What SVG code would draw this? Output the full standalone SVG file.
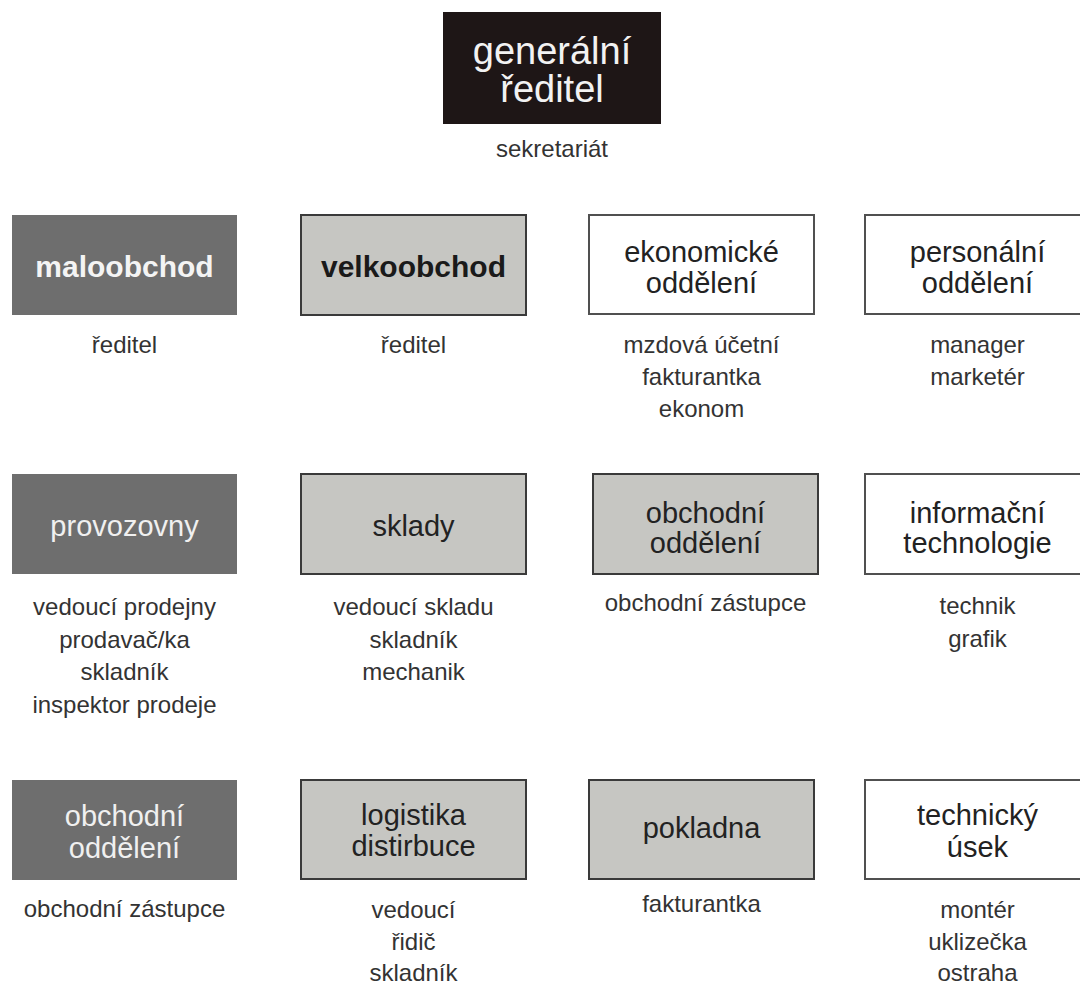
<svg xmlns="http://www.w3.org/2000/svg" width="1080" height="985" viewBox="0 0 1080 985">
<style>
text{font-family:"Liberation Sans",Arial,sans-serif;text-anchor:middle}
.top{fill:#1e1616}
.dark{fill:#6e6e6e}
.light{fill:#c6c6c2;stroke:#3a3a3a;stroke-width:2}
.white{fill:#ffffff;stroke:#505050;stroke-width:2}
.tt{font-size:38px;fill:#f2f2f2}
.lb{font-size:29px;fill:#222}
.lw{font-size:29px;fill:#f0f0f0}
.bw{font-size:30px;font-weight:bold;fill:#f4f4f4}
.bd{font-size:30px;font-weight:bold;fill:#1a1a1a}
.sub{font-size:24px;fill:#333}
</style>
<rect width="1080" height="985" fill="#ffffff"/>
<g id="connectors"/>
<g id="generalni-reditel">
<rect class="top" x="443" y="12" width="218" height="112"/>
<text class="tt" x="552" y="64">generální</text>
<text class="tt" x="552" y="102">ředitel</text>
<text class="sub" x="552" y="157">sekretariát</text>
</g>
<g id="maloobchod">
<rect class="dark" x="12" y="215" width="225" height="100"/>
<text class="bw" x="124.5" y="277">maloobchod</text>
<text class="sub" x="124.5" y="353">ředitel</text>
</g>
<g id="velkoobchod">
<rect class="light" x="301" y="215" width="225" height="100"/>
<text class="bd" x="413.5" y="277">velkoobchod</text>
<text class="sub" x="413.5" y="353">ředitel</text>
</g>
<g id="ekonomicke-oddeleni">
<rect class="white" x="589" y="215" width="225" height="99"/>
<text class="lb" x="701.5" y="262">ekonomické</text>
<text class="lb" x="701.5" y="293">oddělení</text>
<text class="sub" x="701.5" y="353">mzdová účetní</text>
<text class="sub" x="701.5" y="385">fakturantka</text>
<text class="sub" x="701.5" y="417">ekonom</text>
</g>
<g id="personalni-oddeleni">
<rect class="white" x="865" y="215" width="222" height="99"/>
<text class="lb" x="977.5" y="262">personální</text>
<text class="lb" x="977.5" y="293">oddělení</text>
<text class="sub" x="977.5" y="353">manager</text>
<text class="sub" x="977.5" y="385">marketér</text>
</g>
<g id="provozovny">
<rect class="dark" x="12" y="474" width="225" height="100"/>
<text class="lw" x="124.5" y="536">provozovny</text>
<text class="sub" x="124.5" y="615">vedoucí prodejny</text>
<text class="sub" x="124.5" y="648">prodavač/ka</text>
<text class="sub" x="124.5" y="680">skladník</text>
<text class="sub" x="124.5" y="713">inspektor prodeje</text>
</g>
<g id="sklady">
<rect class="light" x="301" y="474" width="225" height="100"/>
<text class="lb" x="413.5" y="536">sklady</text>
<text class="sub" x="413.5" y="615">vedoucí skladu</text>
<text class="sub" x="413.5" y="648">skladník</text>
<text class="sub" x="413.5" y="680">mechanik</text>
</g>
<g id="obchodni-oddeleni-2">
<rect class="light" x="593" y="474" width="225" height="100"/>
<text class="lb" x="705.5" y="523">obchodní</text>
<text class="lb" x="705.5" y="553">oddělení</text>
<text class="sub" x="705.5" y="611">obchodní zástupce</text>
</g>
<g id="informacni-technologie">
<rect class="white" x="865" y="474" width="222" height="100"/>
<text class="lb" x="977.5" y="523">informační</text>
<text class="lb" x="977.5" y="553">technologie</text>
<text class="sub" x="977.5" y="614">technik</text>
<text class="sub" x="977.5" y="647">grafik</text>
</g>
<g id="obchodni-oddeleni-1">
<rect class="dark" x="12" y="780" width="225" height="100"/>
<text class="lw" x="124.5" y="826">obchodní</text>
<text class="lw" x="124.5" y="858">oddělení</text>
<text class="sub" x="124.5" y="917">obchodní zástupce</text>
</g>
<g id="logistika-distirbuce">
<rect class="light" x="301" y="780" width="225" height="99"/>
<text class="lb" x="413.5" y="825">logistika</text>
<text class="lb" x="413.5" y="856">distirbuce</text>
<text class="sub" x="413.5" y="918">vedoucí</text>
<text class="sub" x="413.5" y="950">řidič</text>
<text class="sub" x="413.5" y="981">skladník</text>
</g>
<g id="pokladna">
<rect class="light" x="589" y="780" width="225" height="99"/>
<text class="lb" x="701.5" y="838">pokladna</text>
<text class="sub" x="701.5" y="912">fakturantka</text>
</g>
<g id="technicky-usek">
<rect class="white" x="865" y="780" width="222" height="99"/>
<text class="lb" x="977.5" y="825">technický</text>
<text class="lb" x="977.5" y="857">úsek</text>
<text class="sub" x="977.5" y="918">montér</text>
<text class="sub" x="977.5" y="950">uklizečka</text>
<text class="sub" x="977.5" y="981">ostraha</text>
</g>
</svg>
